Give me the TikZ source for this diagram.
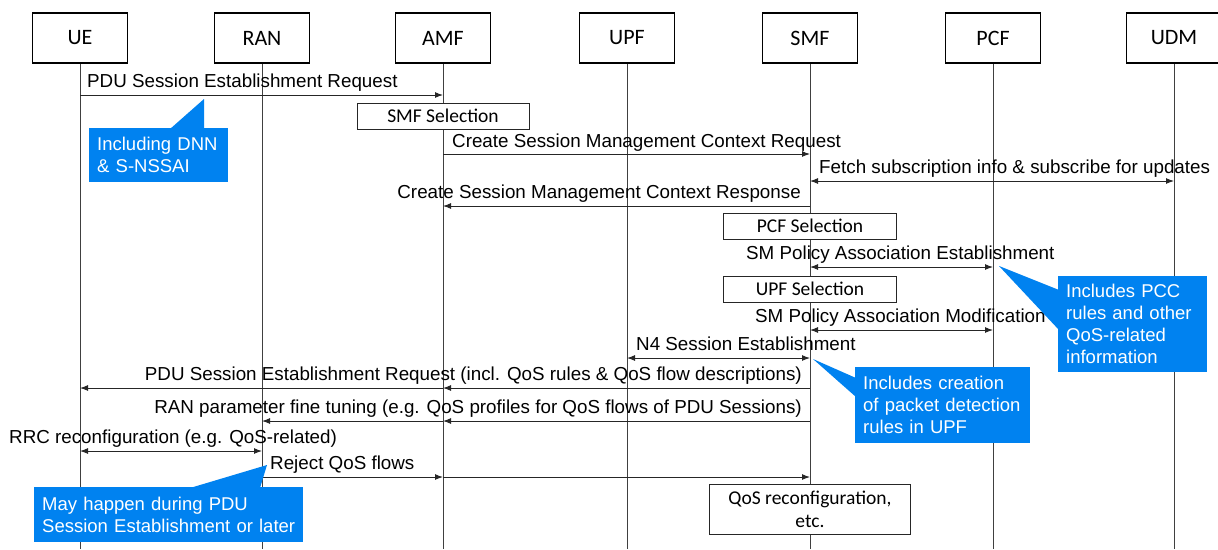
\documentclass[tikz,border=0pt]{standalone}
\usepackage{fontspec}
\setmainfont{Liberation Sans}
\newfontfamily\hildafont{Carlito}
\usetikzlibrary{arrows.meta}
\definecolor{calloutblue}{RGB}{0,130,240}

\begin{document}
\begin{tikzpicture}[x=1pt,y=-1pt,
    entity/.style={draw,fill=white,line width=1.4pt,minimum width=95pt,minimum height=50pt,font=\hildafont\fontsize{22}{24}\selectfont},
    lifeline/.style={line width=0.9pt,black!75},
    msg/.style={line width=1pt,black!85,-{Latex[length=8pt,width=6pt]}},
    twoway/.style={line width=1pt,black!85,{Latex[length=8pt,width=6pt]}-{Latex[length=8pt,width=6pt]}},
    msgtext/.style={font=\fontsize{18.8}{22}\selectfont,inner sep=0pt},
    stepbox/.style={draw=black!85,fill=white,line width=1pt,inner sep=0pt,align=center,font=\hildafont\fontsize{19.5}{23}\selectfont},
    callout/.style={fill=calloutblue,text=white,font=\fontsize{18.5}{22}\selectfont,align=left,anchor=north west,inner xsep=8pt,inner ysep=0pt}]
    \useasboundingbox (0,0) rectangle (1218,549);

    % entities and lifelines
    \foreach \name/\x in {UE/80,RAN/262,AMF/443,UPF/627,SMF/810,PCF/993,UDM/1174}{
        \draw[lifeline] (\x,63) -- (\x,549);
        \node[entity] (\name) at (\x,38) {\name};
    }

    \draw[msg] (UE |- 0,95) -- (AMF |- 0,95);
    \node[msgtext,anchor=base west] (m1) at (87,87) {PDU Session Establishment Request};
    \node[stepbox,minimum width=172pt,minimum height=26pt] (smfsel) at (AMF |- 0,116) {SMF Selection};
    \draw[msg] (AMF |- 0,154) -- (SMF |- 0,154);
    \node[msgtext,anchor=base west] (m2) at (452,147) {Create Session Management Context Request};
    \draw[twoway] (SMF |- 0,181) -- (UDM |- 0,181);
    \node[msgtext,anchor=base west] (m3) at (819,173) {Fetch subscription info \& subscribe for updates};
    \draw[msg] (SMF |- 0,206) -- (AMF |- 0,206);
    \node[msgtext,anchor=base east] (m4) at (801,198) {Create Session Management Context Response};
    \node[stepbox,minimum width=173pt,minimum height=26pt] (pcfsel) at (SMF |- 0,226) {PCF Selection};
    \draw[twoway] (SMF |- 0,267) -- (PCF |- 0,267);
    \node[msgtext,anchor=base west] (m5) at (746,259) {SM Policy Association Establishment};
    \node[stepbox,minimum width=173pt,minimum height=26pt] (upfsel) at (SMF |- 0,289) {UPF Selection};
    \draw[twoway] (SMF |- 0,330) -- (PCF |- 0,330);
    \node[msgtext,anchor=base west] (m6) at (755,322) {SM Policy Association Modification};
    \draw[twoway] (UPF |- 0,358) -- (SMF |- 0,358);
    \node[msgtext,anchor=base west] (m7) at (636,350) {N4 Session Establishment};
    \draw[msg] (SMF |- 0,388) -- (AMF |- 0,388);
    \draw[msg] (AMF |- 0,388) -- (UE |- 0,388);
    \node[msgtext,anchor=base east] (m8) at (802,380) {PDU Session Establishment Request (incl. QoS rules \& QoS flow descriptions)};
    \draw[msg] (SMF |- 0,421) -- (AMF |- 0,421);
    \draw[msg] (AMF |- 0,421) -- (RAN |- 0,421);
    \node[msgtext,anchor=base east] (m9) at (802,413) {RAN parameter fine tuning (e.g. QoS profiles for QoS flows of PDU Sessions)};
    \draw[twoway] (UE |- 0,451) -- (RAN |- 0,451);
    \node[msgtext,anchor=base west] (m10) at (9,443) {RRC reconfiguration (e.g. QoS-related)};
    \draw[msg] (RAN |- 0,477) -- (AMF |- 0,477);
    \draw[msg] (AMF |- 0,477) -- (SMF |- 0,477);
    \node[msgtext,anchor=base west] (m11) at (270,469) {Reject QoS flows};
    \node[stepbox,minimum width=201pt,minimum height=50pt] (qosreconf) at (SMF |- 0,509) {QoS reconfiguration,\\etc.};

    % callouts
    \fill[calloutblue] (204,99) -- (170,129) -- (204,129) -- cycle;
    \node[callout,text width=123pt,minimum height=54pt] (dnn) at (89,128) {Including DNN\\\& S-NSSAI};
    \fill[calloutblue] (999,266) -- (1059,290) -- (1059,330) -- cycle;
    \node[callout,text width=133pt,minimum height=96pt] (pcc) at (1058,276) {Includes PCC\\rules and other\\QoS-related\\information};
    \fill[calloutblue] (813,359) -- (856,378) -- (856,397) -- cycle;
    \node[callout,text width=159pt,minimum height=76pt] (pdr) at (855,367) {Includes creation\\of packet detection\\rules in UPF};
    \fill[calloutblue] (267,465) -- (190,488) -- (260,488) -- cycle;
    \node[callout,text width=253pt,minimum height=55pt] (later) at (34,487) {May happen during PDU\\Session Establishment or later};
\end{tikzpicture}
\end{document}
